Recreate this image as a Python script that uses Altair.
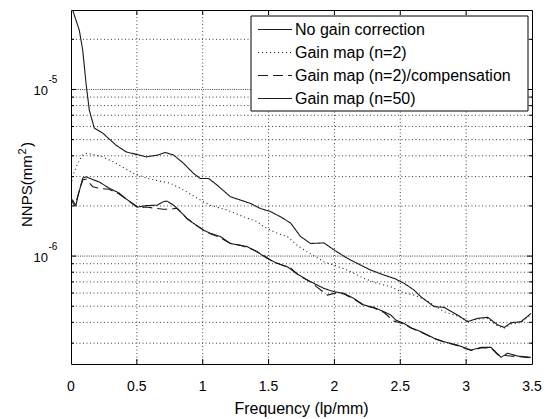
import altair as alt
import pandas as pd

FONT = "Liberation Sans"

SERIES = ["No gain correction", "Gain map (n=2)", "Gain map (n=2)/compensation", "Gain map (n=50)"]
DASHES = [[1, 0], [1, 3], [10, 5], [1, 0]]

freq_nogain = [0.0, 0.013, 0.063, 0.089, 0.114, 0.139, 0.177, 0.241, 0.342, 0.419,
               0.517, 0.571, 0.660, 0.715, 0.779, 0.855, 0.931, 0.982, 1.045, 1.109,
               1.210, 1.286, 1.362, 1.438, 1.514, 1.591, 1.667, 1.743, 1.819, 1.920,
               1.996, 2.098, 2.174, 2.275, 2.377, 2.453, 2.529, 2.605, 2.656, 2.757,
               2.833, 2.935, 3.011, 3.088, 3.164, 3.240, 3.290, 3.341, 3.417, 3.493]
nnps_nogain = [3.4e-5, 2.99e-5, 2.27e-5, 1.72e-5, 1.09e-5, 7.51e-6, 5.86e-6, 5.47e-6, 4.63e-6, 4.22e-6,
               4.04e-6, 3.94e-6, 4.04e-6, 4.19e-6, 4.04e-6, 3.60e-6, 3.13e-6, 2.92e-6, 2.92e-6, 2.67e-6,
               2.27e-6, 2.17e-6, 2.07e-6, 1.93e-6, 1.85e-6, 1.72e-6, 1.58e-6, 1.31e-6, 1.19e-6, 1.20e-6,
               1.09e-6, 9.69e-7, 9.04e-7, 8.24e-7, 7.69e-7, 7.35e-7, 6.86e-7, 6.25e-7, 5.70e-7, 4.97e-7,
               4.92e-7, 4.43e-7, 4.04e-7, 4.23e-7, 4.29e-7, 3.86e-7, 3.73e-7, 3.98e-7, 4.04e-7, 4.53e-7]

freq_n2 = [0.0, 0.015, 0.051, 0.089, 0.122, 0.241, 0.342, 0.470, 0.571, 0.670,
           0.753, 0.855, 0.982, 1.058, 1.185, 1.311, 1.413, 1.463, 1.565, 1.642,
           1.718, 1.768, 1.920, 1.996, 2.098, 2.224, 2.326, 2.428, 2.504, 2.605,
           2.694, 2.833, 2.935, 3.011, 3.088, 3.164, 3.240, 3.290, 3.341, 3.417,
           3.493]
nnps_n2 = [2.67e-6, 3.06e-6, 3.61e-6, 4.04e-6, 4.15e-6, 3.94e-6, 3.61e-6, 3.15e-6, 2.94e-6, 2.82e-6,
           2.74e-6, 2.49e-6, 2.17e-6, 2.02e-6, 1.89e-6, 1.72e-6, 1.61e-6, 1.50e-6, 1.37e-6, 1.31e-6,
           1.16e-6, 1.09e-6, 9.25e-7, 8.83e-7, 8.24e-7, 7.35e-7, 6.86e-7, 6.55e-7, 6.11e-7, 5.83e-7,
           5.44e-7, 4.63e-7, 4.37e-7, 4.07e-7, 4.19e-7, 4.22e-7, 3.80e-7, 3.70e-7, 3.91e-7, 3.99e-7,
           4.46e-7]

freq_comp = [0.0, 0.015, 0.030, 0.053, 0.089, 0.114, 0.165, 0.215, 0.289, 0.365,
             0.419, 0.508, 0.571, 0.652, 0.702, 0.753, 0.804, 0.881, 0.931, 1.007,
             1.058, 1.134, 1.210, 1.286, 1.362, 1.438, 1.514, 1.591, 1.667, 1.730,
             1.819, 1.946, 2.022, 2.072, 2.148, 2.224, 2.301, 2.377, 2.451, 2.529,
             2.580, 2.656, 2.757, 2.833, 2.935, 3.037, 3.113, 3.189, 3.242, 3.295,
             3.392, 3.493]
nnps_comp = [2.23e-6, 2.08e-6, 2.00e-6, 2.32e-6, 2.86e-6, 2.90e-6, 2.61e-6, 2.55e-6, 2.52e-6, 2.36e-6,
             2.20e-6, 1.95e-6, 1.97e-6, 1.93e-6, 1.91e-6, 1.91e-6, 1.94e-6, 1.68e-6, 1.57e-6, 1.43e-6,
             1.36e-6, 1.29e-6, 1.19e-6, 1.16e-6, 1.11e-6, 1.04e-6, 9.47e-7, 8.89e-7, 8.47e-7, 7.64e-7,
             6.98e-7, 5.83e-7, 6.04e-7, 5.92e-7, 5.52e-7, 5.05e-7, 4.88e-7, 4.58e-7, 4.07e-7, 3.91e-7,
             3.70e-7, 3.50e-7, 3.20e-7, 3.05e-7, 2.90e-7, 2.71e-7, 2.81e-7, 2.81e-7, 2.55e-7, 2.53e-7,
             2.49e-7, 2.45e-7]

freq_n50 = [0.0, 0.013, 0.025, 0.038, 0.051, 0.089, 0.114, 0.215, 0.289, 0.365,
            0.419, 0.508, 0.571, 0.652, 0.702, 0.728, 0.779, 0.830, 0.881, 0.931,
            1.007, 1.058, 1.134, 1.210, 1.286, 1.337, 1.413, 1.489, 1.565, 1.642,
            1.730, 1.819, 1.920, 1.996, 2.072, 2.148, 2.224, 2.301, 2.377, 2.428,
            2.466, 2.529, 2.580, 2.656, 2.757, 2.833, 2.935, 3.037, 3.113, 3.189,
            3.265, 3.316, 3.392, 3.493]
nnps_n50 = [2.17e-6, 2.17e-6, 2.08e-6, 2.02e-6, 2.26e-6, 2.94e-6, 2.99e-6, 2.78e-6, 2.56e-6, 2.39e-6,
            2.20e-6, 1.97e-6, 2.01e-6, 2.02e-6, 2.12e-6, 2.14e-6, 2.02e-6, 1.85e-6, 1.68e-6, 1.57e-6,
            1.43e-6, 1.37e-6, 1.31e-6, 1.19e-6, 1.16e-6, 1.14e-6, 1.06e-6, 9.69e-7, 9.04e-7, 8.63e-7,
            7.69e-7, 7.02e-7, 6.40e-7, 6.11e-7, 5.97e-7, 5.57e-7, 5.08e-7, 4.92e-7, 4.63e-7, 4.43e-7,
            4.13e-7, 3.94e-7, 3.72e-7, 3.52e-7, 3.21e-7, 3.06e-7, 2.92e-7, 2.73e-7, 2.83e-7, 2.83e-7,
            2.47e-7, 2.61e-7, 2.51e-7, 2.47e-7]

x_ticks = [0, 0.5, 1.0, 1.5, 2.0, 2.5, 3.0, 3.5]
x_tick_labels = ["0", "0.5", "1", "1.5", "2", "2.5", "3", "3.5"]
x_grid = [0.5, 1.0, 1.5, 2.0, 2.5, 3.0]
y_major = [1e-6, 1e-5]
y_major_exp = ["-6", "-5"]
y_minor = [3e-7, 4e-7, 5e-7, 6e-7, 7e-7, 8e-7, 9e-7,
           2e-6, 3e-6, 4e-6, 5e-6, 6e-6, 7e-6, 8e-6, 9e-6, 2e-5]
x_title = "Frequency (lp/mm)"
y_title_parts = ["NNPS(mm", "2", ")"]

W, H = 461, 354
XS = alt.Scale(domain=[0, 3.5], nice=False, zero=False)
YS = alt.Scale(type="log", domain=[2.25e-7, 3e-5], nice=False)

frames = []
for name, f, v in zip(SERIES, [freq_nogain, freq_n2, freq_comp, freq_n50],
                      [nnps_nogain, nnps_n2, nnps_comp, nnps_n50]):
    frames.append(pd.DataFrame({"freq": f, "nnps": v, "series": name}))
df = pd.concat(frames, ignore_index=True)

GRID_COLOR = "#222222"

grid_minor = alt.Chart(pd.DataFrame({"v": y_minor})).mark_rule(
    color=GRID_COLOR, strokeWidth=1, strokeDash=[1, 2.5], opacity=0.85
).encode(y=alt.Y("v:Q", scale=YS, axis=None))

grid_major = alt.Chart(pd.DataFrame({"v": y_major})).mark_rule(
    color=GRID_COLOR, strokeWidth=1, strokeDash=[1, 1.2], opacity=0.85
).encode(y=alt.Y("v:Q", scale=YS, axis=None))

grid_x = alt.Chart(pd.DataFrame({"f": x_grid})).mark_rule(
    color=GRID_COLOR, strokeWidth=1, strokeDash=[1, 2.5], opacity=0.85
).encode(x=alt.X("f:Q", scale=XS, axis=None))

tick_df = pd.DataFrame({"f": x_grid})
xt_bottom = alt.Chart(tick_df).mark_rule(color="black").encode(
    x=alt.X("f:Q", scale=XS, axis=None), y=alt.value(H), y2=alt.value(H - 5))
xt_top = alt.Chart(tick_df).mark_rule(color="black").encode(
    x=alt.X("f:Q", scale=XS, axis=None), y=alt.value(0), y2=alt.value(5))
ymaj_df = pd.DataFrame({"v": y_major})
ymin_df = pd.DataFrame({"v": y_minor})
yt = []
for d, ln in [(ymaj_df, 5), (ymin_df, 3)]:
    yt.append(alt.Chart(d).mark_rule(color="black").encode(
        y=alt.Y("v:Q", scale=YS, axis=None), x=alt.value(0), x2=alt.value(ln)))
    yt.append(alt.Chart(d).mark_rule(color="black").encode(
        y=alt.Y("v:Q", scale=YS, axis=None), x=alt.value(W), x2=alt.value(W - ln)))

lines = alt.Chart(df).mark_line(color="#1a1a1a", strokeWidth=1.1, clip=True).encode(
    x=alt.X("freq:Q", scale=XS, axis=None),
    y=alt.Y("nnps:Q", scale=YS, axis=None),
    strokeDash=alt.StrokeDash("series:N", scale=alt.Scale(domain=SERIES, range=DASHES), legend=None),
    detail="series:N",
)

xlab = alt.Chart(pd.DataFrame({"f": x_ticks, "lab": x_tick_labels})).mark_text(
    align="center", baseline="alphabetic", font=FONT, fontSize=14, color="black"
).encode(x=alt.X("f:Q", scale=XS, axis=None), y=alt.value(H + 27), text="lab:N")

ylab_df = pd.DataFrame({"v": y_major, "exp": y_major_exp})
ylab_base = alt.Chart(ylab_df).mark_text(
    align="right", baseline="alphabetic", font=FONT, fontSize=13, dy=5.5, color="black"
).encode(y=alt.Y("v:Q", scale=YS, axis=None), x=alt.value(-23), text=alt.value("10"))
ylab_exp = alt.Chart(ylab_df).mark_text(
    align="left", baseline="alphabetic", font=FONT, fontSize=10, dy=-6.5, color="black"
).encode(y=alt.Y("v:Q", scale=YS, axis=None), x=alt.value(-22.5), text="exp:N")

one = pd.DataFrame({"k": [0]})
xtitle = alt.Chart(one).mark_text(
    align="center", baseline="alphabetic", font=FONT, fontSize=16, color="black"
).encode(x=alt.value(W / 2), y=alt.value(H + 49.7), text=alt.value(x_title))

ytitle_layers = []
for txt, xx, yy, fs in zip(y_title_parts, [-39, -45.5, -39], [217, 144.5, 137], [15, 11, 15]):
    ytitle_layers.append(alt.Chart(one).mark_text(
        align="left", baseline="alphabetic", font=FONT, fontSize=fs, color="black", angle=270
    ).encode(x=alt.value(xx), y=alt.value(yy), text=alt.value(txt)))

legend_box = alt.Chart(one).mark_rect(fill="white", stroke="black", strokeWidth=1).encode(
    x=alt.value(180), x2=alt.value(457), y=alt.value(6), y2=alt.value(101))
legend_layers = [legend_box]
for i, (name, dash) in enumerate(zip(SERIES, DASHES)):
    yy = 19.5 + 23 * i
    legend_layers.append(alt.Chart(one).mark_rule(color="#1a1a1a", strokeWidth=1.1, strokeDash=dash).encode(
        x=alt.value(187), x2=alt.value(221), y=alt.value(yy)))
    legend_layers.append(alt.Chart(one).mark_text(
        align="left", baseline="middle", font=FONT, fontSize=16, color="black").encode(
        x=alt.value(224), y=alt.value(yy + 0.5), text=alt.value(name)))

chart = alt.layer(
    grid_minor, grid_major, grid_x, xt_bottom, xt_top, *yt, lines,
    xlab, ylab_base, ylab_exp, xtitle, *ytitle_layers, *legend_layers
).properties(
    width=W, height=H,
    autosize=alt.AutoSizeParams(type="none"),
    padding={"left": 71, "top": 10, "right": 17, "bottom": 55},
    background="white",
).configure_view(stroke="black", strokeWidth=1)

chart.save("out.html", embed_options={"renderer": "svg", "actions": False})
